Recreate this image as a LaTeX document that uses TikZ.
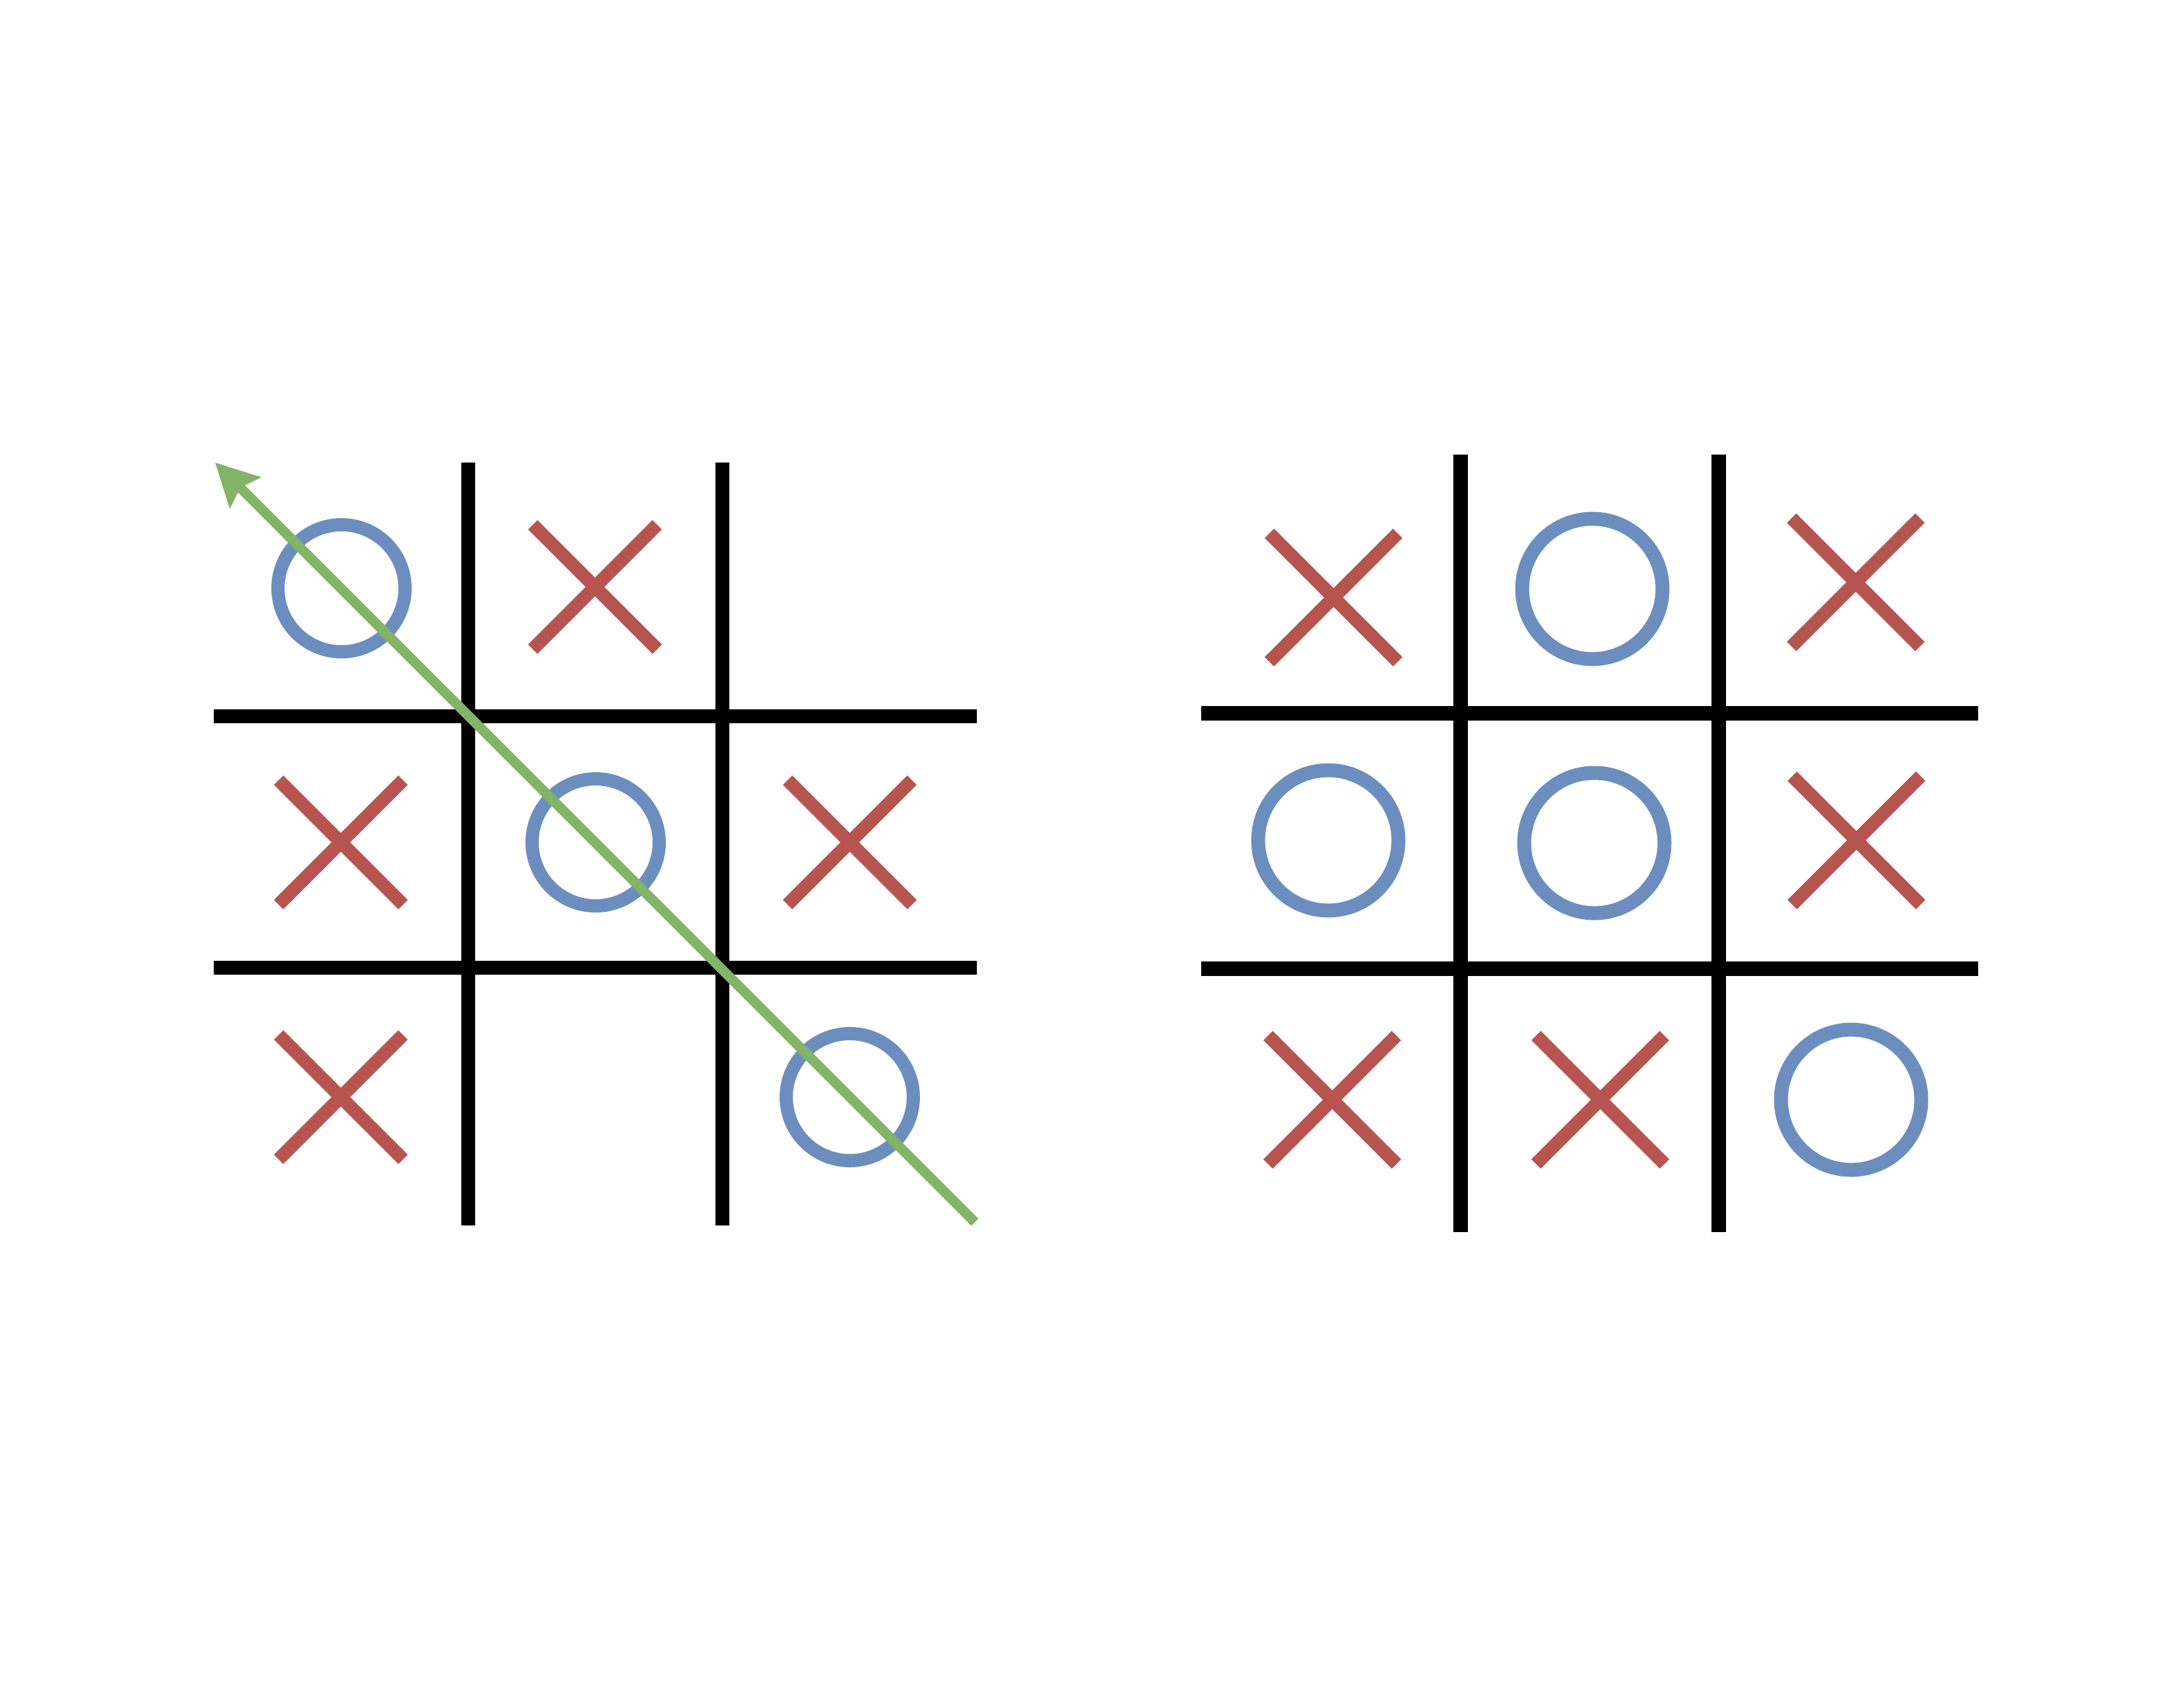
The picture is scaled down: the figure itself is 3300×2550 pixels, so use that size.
\documentclass[tikz,border=0pt]{standalone}
\usetikzlibrary{arrows.meta}
\definecolor{xred}{HTML}{B85450}
\definecolor{oblue}{HTML}{6C8EBF}
\definecolor{wgreen}{HTML}{82B366}
\begin{document}
\begin{tikzpicture}[x=0.24bp,y=-0.24bp,
  gridline/.style={line width=5.04bp, black},
  gridlineR/.style={line width=5.28bp, black},
  xmark/.style={line width=4.8bp, xred},
  omark/.style={line width=4.8bp, oblue},
  omarkR/.style={line width=5.04bp, oblue},
  winline/.style={line width=3.6bp, wgreen, -{Stealth[length=15.3bp,width=15.5bp,inset=2.4bp]}}]
\useasboundingbox (0,0) rectangle (3300,2550);
% ---------- left board ----------
\draw[gridline] (707,699) -- (707,1852) (1091,699) -- (1091,1852);
\draw[gridline] (323,1082) -- (1476,1082) (323,1462) -- (1476,1462);
\draw[omark] (516,889) circle[radius=23.04bp];
\draw[omark] (900,1273) circle[radius=23.04bp];
\draw[omark] (1284,1658) circle[radius=23.04bp];
\draw[xmark] (899,887) +(-94,-94) -- +(94,94) +(-94,94) -- +(94,-94);
\draw[xmark] (515,1273) +(-94,-94) -- +(94,94) +(-94,94) -- +(94,-94);
\draw[xmark] (1284,1273) +(-94,-94) -- +(94,94) +(-94,94) -- +(94,-94);
\draw[xmark] (515,1658) +(-94,-94) -- +(94,94) +(-94,94) -- +(94,-94);
\coordinate (wstart) at (1473,1847);
\coordinate (wend) at (325,699);
\draw[winline] (wstart) -- (wend);
% ---------- right board ----------
\draw[gridlineR] (2207,687) -- (2207,1862) (2597,687) -- (2597,1862);
\draw[gridlineR] (1815,1078) -- (2989,1078) (1815,1464) -- (2989,1464);
\draw[xmark] (2015,903) +(-97,-97) -- +(97,97) +(-97,97) -- +(97,-97);
\draw[omarkR] (2406,890) circle[radius=25.44bp];
\draw[xmark] (2804,880) +(-97,-97) -- +(97,97) +(-97,97) -- +(97,-97);
\draw[omarkR] (2007,1270) circle[radius=25.44bp];
\draw[omarkR] (2409,1274) circle[radius=25.44bp];
\draw[xmark] (2805,1270) +(-97,-97) -- +(97,97) +(-97,97) -- +(97,-97);
\draw[xmark] (2013,1662) +(-97,-97) -- +(97,97) +(-97,97) -- +(97,-97);
\draw[xmark] (2418,1662) +(-97,-97) -- +(97,97) +(-97,97) -- +(97,-97);
\draw[omarkR] (2797,1662) circle[radius=25.44bp];
\end{tikzpicture}
\end{document}
